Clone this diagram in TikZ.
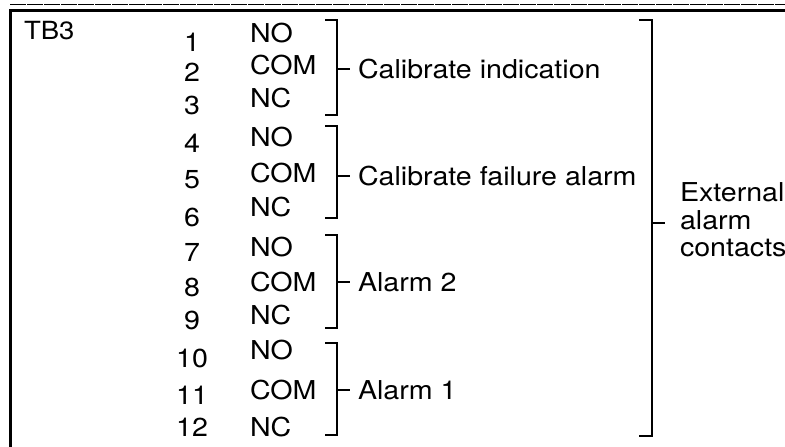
\documentclass[tikz,border=0pt]{standalone}
\usepackage{fontspec}
\setmainfont{TeX Gyre Heros}[FakeStretch=1.1]
\begin{document}
\begin{tikzpicture}[x=1pt,y=-1pt,
  txt/.style={inner sep=0pt,outer sep=0pt,font=\fontsize{26}{27.5}\selectfont},
  num/.style={txt,anchor=center},
  lab/.style={txt,anchor=west},
  brk/.style={line width=2.8pt,line cap=butt,line join=miter},
  frame/.style={line width=3pt}]
\useasboundingbox (0,0) rectangle (785,447);
\fill[white] (0,0) rectangle (785,447);
% frame
\draw[line width=1.4pt,dash pattern=on 16pt off 1pt] (10,4.5) -- (785,4.5);
\draw[frame] (10,447) -- (10,10) -- (785,10);
\node[txt,anchor=west,font=\fontsize{25}{26}\selectfont] (tb3) at (24,31) {TB3};
% numbers
\foreach \i/\y in {1/42,2/72,3/105,4/143,5/180,6/217,7/252,8/287,9/320,10/358,11/395,12/427}{
  \node[num] (n\i) at (192,\y) {\i};
}
% contact labels
\foreach \i/\y/\t in {1/33/NO,2/65/COM,3/98/NC,4/137/NO,5/173/COM,6/207/NC,7/247/NO,8/282/COM,9/315/NC,10/350/NO,11/390/COM,12/427/NC}{
  \node[lab] (c\i) at (250,\y) {\t};
}
% group brackets
\foreach \g/\top/\bot/\tick/\t in {1/20/115/69/Calibrate indication,2/126/218/176/Calibrate failure alarm,3/235/328/282/Alarm 2,4/343/435/390/Alarm 1}{
  \coordinate (gt\g) at (325,\top);
  \coordinate (gb\g) at (325,\bot);
  \coordinate (gm\g) at (337,\tick);
  \node[lab] (gl\g) at (358,\tick) {\t};
  \draw[brk] (gt\g) -- (337,\top) -- (337,\bot) -- (gb\g);
  \draw[brk] (gm\g) -- ++(13,0);
}
% external bracket
\coordinate (et) at (639,20);
\coordinate (eb) at (639,436);
\coordinate (em) at (652,223);
\draw[brk] (et) -- (652,20) -- (652,436) -- (eb);
\draw[brk] (em) -- ++(13,0);
\node[txt,anchor=west,align=left] (ext) at (680,220) {External\\alarm\\contacts};
\end{tikzpicture}
\end{document}
